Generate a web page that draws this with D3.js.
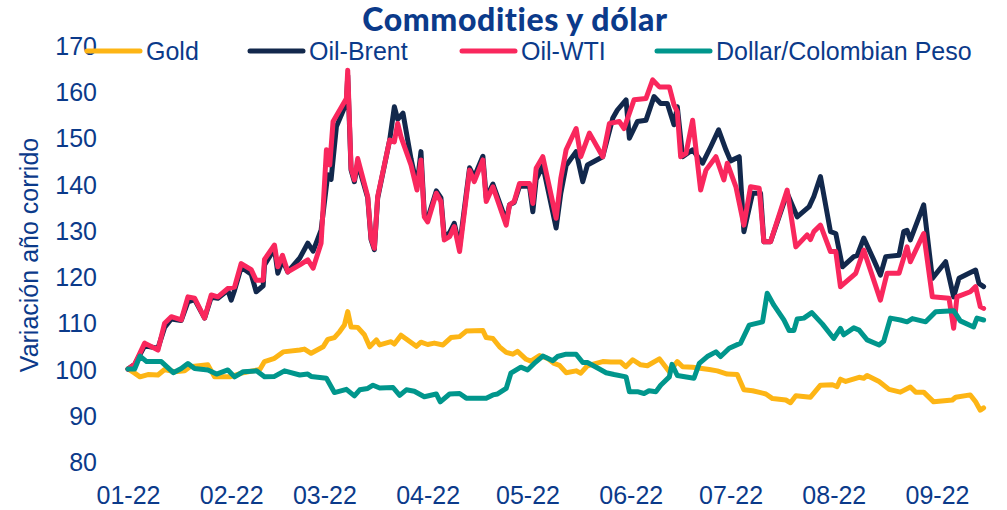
<!doctype html>
<html>
<head>
<meta charset="utf-8">
<title>Commodities y dólar</title>
<style>
  body { margin: 0; background: #fff; }
  svg text { font-family: "Liberation Sans", Arial, sans-serif; fill: #0b3a8a; }
</style>
</head>
<body>
<div id="chart"></div>
<script src="https://d3js.org/d3.v7.min.js"></script>
<script>
// values: [days since 2022-01-01, index value]
var gold = [[0,100],[2,99.1],[3.6,98.3],[6,98.8],[9,98.7],[11,99.9],[14,99.4],[17,99.6],[18.6,100.5],[24,100.9],[26,98.3],[30.6,98.3],[34.6,99.2],[39.6,99.9],[41,101.6],[44,102.3],[46.6,103.7],[51.6,104.1],[53,104.3],[55,103.4],[58.6,104.8],[60,106.4],[62,106.8],[63.6,108.1],[65,109.5],[66,112.4],[67,109.1],[69,109],[71,107.4],[72.6,104.8],[74.6,106.3],[75.6,105.2],[79,105.9],[80,105.4],[82,107.3],[86.6,104.9],[88,105.8],[90,105.3],[92,105.6],[94.6,105.2],[97,106.8],[99.6,107],[101.6,108.2],[106.6,108.3],[107.6,106.8],[109.6,106.6],[111.6,104.8],[113.6,103.6],[115.6,103.2],[117,103.8],[119.6,102.1],[121,101.7],[123.6,102.9],[126,102.3],[128,101.2],[129.6,100.8],[131.6,99.2],[134.6,99.6],[136,99.1],[138,100.7],[142.6,101.6],[145,101.5],[148,101.5],[149.5,100.5],[151.6,102],[154,100.9],[156,100.7],[159.6,102.2],[162.6,99.4],[165,101.6],[166.6,100.5],[169.6,100.4],[174.6,99.9],[177,99.6],[180,98.9],[183,98.8],[185,95.5],[187.6,95.3],[190,94.9],[191.6,94.6],[193.6,93.6],[197.6,93.3],[199,92.7],[200.6,94.2],[205,93.9],[208,96.5],[211.6,96.6],[213,96.2],[214,97.8],[215.6,97.3],[219.6,98.2],[221,98],[222,98.6],[225.6,97.3],[228.6,95.6],[232,95],[235,96.1],[236.6,95],[239,95],[242,92.9],[246,93.2],[247.6,93.3],[248.6,93.9],[253,94.4],[254.6,92.9],[256,91.1],[257,91.6]];

var brent = [[0,100],[2,101],[5,105],[9,104.5],[11,109],[13,110.8],[16,110.5],[18,114.5],[20,115],[23,111],[25,115.5],[27,115.3],[30,117],[31,114.9],[32,117],[34,122],[37,120.5],[38.5,116.7],[40.6,118],[41,122.5],[44,126],[45,120.7],[46.4,123.5],[48,121],[51.6,124],[54,127.2],[55.6,125.5],[58,130],[60,142],[61,141],[62.6,152.4],[65.6,157.5],[66,163.5],[67,143],[68,140.5],[69,144.5],[72,137],[73,128],[74,125.8],[75,137],[78.6,149.5],[80,156.7],[81,154],[82.6,155.3],[85,145.5],[86.8,139.5],[88,147],[89,133.5],[90,132.5],[92.6,138.5],[94,137],[95,128.5],[96.6,129.5],[98,131.5],[99.6,126.5],[102.6,143.5],[104,141.5],[106.6,146],[107.6,137],[109.6,140],[113.6,132],[114.6,135.5],[116,136],[117.6,139.5],[120.6,139.5],[121.6,134],[122.6,141],[124.6,144],[128.6,130.5],[130,138],[131.6,144],[134.6,147],[136.6,140.5],[138,144.1],[142.6,145.9],[145.6,154.2],[147,156],[149.6,158.2],[150.6,149.9],[153,153.5],[155.6,153.8],[158,158.9],[160,157.4],[162,157.4],[164,152.8],[165,156.7],[166.6,145.9],[169.6,147.4],[172.6,144.5],[175,148],[177.4,151.7],[179.6,147.4],[181,145],[183.6,145.9],[185,129.7],[187.6,138],[190,138],[191,127.5],[193,127.5],[198,138],[201,132.9],[204.6,135.1],[206,137.3],[208,141.6],[211,129.7],[212.6,129.3],[214.6,122.1],[218,124.3],[219,124.5],[221,128.3],[224,123.6],[226,120.3],[227.6,124.3],[231.6,124.6],[233,129.7],[234,130],[235,127.9],[239,135.5],[241.6,119.6],[245.6,123.2],[248,115.6],[249.6,119.6],[252.6,120.7],[254.6,121.4],[255.6,118.5],[257,117.8]];

var wti = [[0,100],[2,101],[5,105.6],[9,104.1],[11,109.9],[13,111.3],[16,110.6],[18,115.6],[20,115.3],[23,111],[25,116],[27,115.6],[30,117.4],[32,117.7],[34,122.8],[37,121.5],[38.5,119.2],[40.6,119.2],[41,123.7],[44,126.8],[45,122.1],[46.4,124.6],[48,121],[51.6,122.5],[54,123.6],[55.6,121.8],[58,127.2],[59.6,147.4],[60.6,144.1],[61.6,153.5],[65.6,158.5],[66,164.6],[67,143.4],[68,140.9],[69,145.5],[72,137.3],[73,128.3],[74,126.1],[75,137.3],[78.6,149.5],[80,149.1],[81,153.1],[82,150.2],[85,144.1],[86.8,138.7],[88,145.2],[89,132.9],[90,131.8],[92.6,138],[94,136.2],[95,127.9],[96.6,128.6],[98,130.8],[99.6,125.4],[102.6,143],[104,140.5],[106.6,145.2],[107.6,136.2],[109.6,139.4],[113.6,131.1],[114.6,135.5],[116,136.2],[117.6,140.1],[120.6,140.1],[121.6,135.8],[122.6,143.4],[124.6,145.9],[128.6,132.6],[130,141.2],[131.6,147.4],[134.6,152],[136,145.9],[138.6,151],[142.6,145.9],[144.6,153.1],[147.6,153.5],[149,152],[152,158.2],[155.6,158.5],[157.6,162.5],[159.6,161],[162.6,161],[164,157.1],[165,155.6],[166,145.9],[167.6,146.6],[169.6,153.8],[172,138.7],[173.6,143],[176.6,145.9],[179,140.9],[180,144.5],[182.6,139.4],[185,131.1],[187,139.4],[189.6,139.1],[191,127.5],[193,127.5],[198,138.7],[200.6,126.4],[204,129],[205,128],[206,129.7],[208,131.1],[211,125.4],[212.6,125.4],[214,117.8],[218.6,120.7],[221,125.7],[226,114.9],[228,120.7],[231.6,120.7],[234,126.4],[235,123.2],[239,129.3],[241.6,115.6],[246.6,115.3],[248,108.8],[249,115.6],[253,116.7],[254.6,117.8],[256,113.5],[257,113.1]];

var usdcop = [[0,100],[2,100],[3.6,102.8],[5.6,101.6],[10,101.6],[13.6,99.2],[16,100.1],[18,101.2],[20,100.1],[24,99.8],[26.6,98.9],[30,99.8],[32,98.3],[34.6,99.4],[38.6,99.6],[41,98.3],[44,98.4],[47,99.6],[51.6,98.7],[54,98.9],[55,98.4],[59.6,98],[62,94.9],[65.6,95.6],[68,94.2],[69.6,95.5],[72,95.8],[73.6,96.5],[75.6,95.9],[79.6,96],[81.6,94.3],[83.6,95.5],[86,95.2],[89,94],[92.6,94.6],[93.8,92.9],[96.6,94.6],[99.6,94.7],[101.6,93.7],[107.6,93.7],[109.6,94.4],[111,94.6],[113.6,95.8],[115,99.1],[118,100.4],[120,99.8],[122,101.2],[124.6,102.8],[127.6,101.8],[129,102.7],[131.6,103.2],[134.6,103.2],[136.6,101.4],[138,101.4],[141.6,100],[143.6,99.2],[146,98.8],[149.6,98.3],[150.6,95.1],[153,95.1],[155,94.7],[156.5,95.3],[158.6,95.1],[160,96.5],[162.6,98.3],[163.4,101],[165,98.6],[170,98],[171.6,101.2],[174,102.7],[176.6,103.7],[178,102.7],[180.6,104.5],[184,105.6],[186.6,109.5],[190.6,110.2],[192,116.4],[194,113.8],[197,110.6],[198.6,108.3],[200,108.3],[201,110.8],[203,111],[205.4,112.2],[208.6,109.7],[212,106.6],[214,108.8],[215,107.4],[218,108.9],[219.6,108.4],[222,106.3],[225.6,105.2],[227,106],[229,111],[232,110.6],[234,110.2],[235.6,110.9],[239.6,110.2],[242.6,112.4],[248,112.6],[250,110.4],[254,109.1],[255,111],[257,110.6]];

var seriesNames = ["Gold", "Oil-Brent", "Oil-WTI", "Dollar/Colombian Peso"];
var seriesColors = ["#fdb515", "#12284c", "#f9275d", "#00968c"];
var yTicks = [80, 90, 100, 110, 120, 130, 140, 150, 160, 170];
var xTickLabels = ["01-22", "02-22", "03-22", "04-22", "05-22", "06-22", "07-22", "08-22", "09-22"];

var width = 1007, height = 510;
var start = new Date(2022, 0, 1);
function toDate(d) { return new Date(start.getTime() + d * 864e5); }

var svg = d3.select("#chart").append("svg")
    .attr("width", width)
    .attr("height", height);

var x = d3.scaleTime()
    .domain([start, new Date(2022, 8, 1)])
    .range([128, 937]);

var y = d3.scaleLinear()
    .domain([80, 170])
    .range([461.5, 45.25]);

// title
svg.append("text")
    .attr("x", 515)
    .attr("y", 31)
    .attr("text-anchor", "middle")
    .style("font-family", "Lato, 'Open Sans', sans-serif")
    .style("font-weight", "900")
    .style("font-size", "32px")
    .style("letter-spacing", "0.6px")
    .text("Commodities y dólar");

// y axis
var yAxis = svg.append("g")
    .attr("transform", "translate(97,0)")
    .call(d3.axisLeft(y).tickValues(yTicks).tickSize(0).tickPadding(0));
yAxis.select(".domain").remove();
yAxis.selectAll("text")
    .style("font-family", "'Liberation Sans', Arial, sans-serif")
    .style("font-size", "25px")
    .attr("fill", "#0b3a8a")
    .attr("dy", "0.36em");

// x axis
var monthStarts = xTickLabels.map(function (d, i) { return new Date(2022, i, 1); });
var xAxis = svg.append("g")
    .attr("transform", "translate(0,481)")
    .call(d3.axisBottom(x).tickValues(monthStarts)
        .tickFormat(function (d, i) { return xTickLabels[i]; })
        .tickSize(0).tickPadding(0));
xAxis.select(".domain").remove();
xAxis.selectAll("text")
    .style("font-family", "'Liberation Sans', Arial, sans-serif")
    .style("font-size", "25px")
    .attr("fill", "#0b3a8a")
    .attr("dy", "0.9em");

// y axis title
svg.append("text")
    .attr("transform", "translate(38,255) rotate(-90)")
    .attr("text-anchor", "middle")
    .style("font-size", "25px")
    .text("Variación año corrido");

// lines
var line = d3.line()
    .x(function (d) { return x(toDate(d[0])); })
    .y(function (d) { return y(d[1]); });

var allSeries = [gold, brent, wti, usdcop];
allSeries.forEach(function (s, i) {
    svg.append("path")
        .datum(s)
        .attr("fill", "none")
        .attr("stroke", seriesColors[i])
        .attr("stroke-width", 5)
        .attr("stroke-linejoin", "round")
        .attr("stroke-linecap", "round")
        .attr("d", line);
});

// legend
var legendX = [87, 250, 462, 657];
var legend = svg.append("g");
seriesNames.forEach(function (name, i) {
    legend.append("line")
        .attr("x1", legendX[i]).attr("x2", legendX[i] + 53)
        .attr("y1", 51).attr("y2", 51)
        .attr("stroke", seriesColors[i])
        .attr("stroke-width", 5)
        .attr("stroke-linecap", "round");
    legend.append("text")
        .attr("x", legendX[i] + 59)
        .attr("y", 60)
        .style("font-size", "25px")
        .text(name);
});
</script>
</body>
</html>
